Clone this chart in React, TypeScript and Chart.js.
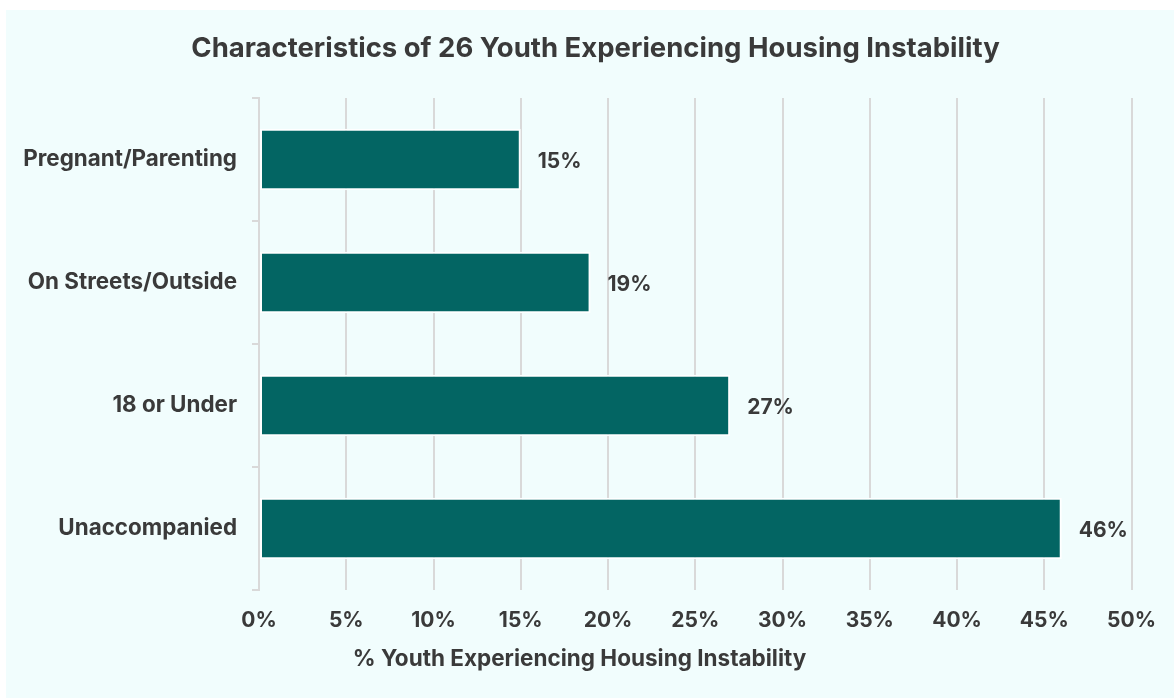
import React, { useEffect, useRef } from "react";
import { Chart, registerables } from "chart.js";

Chart.register(...registerables);

const categories = ["Pregnant/Parenting", "On Streets/Outside", "18 or Under", "Unaccompanied"];
const percentages = [15, 19, 27, 46];
const tickValues = [0, 5, 10, 15, 20, 25, 30, 35, 40, 45, 50];
const chartTitle = "Characteristics of 26 Youth Experiencing Housing Instability";
const xAxisTitle = "% Youth Experiencing Housing Instability";

const TEXT = "#3a3a3a";
const GRID = "#d9d9d9";
const BAR = "#036563";
const FONT = "Inter, 'Open Sans', sans-serif";

// Percent labels at the end of each bar
const valueLabels = {
  id: "valueLabels",
  afterDatasetsDraw(chart: any) {
    const { ctx } = chart;
    const meta = chart.getDatasetMeta(0);
    ctx.save();
    ctx.font = `700 21px ${FONT}`;
    ctx.fillStyle = TEXT;
    ctx.textAlign = "left";
    ctx.textBaseline = "middle";
    meta.data.forEach((bar: any, i: number) => {
      ctx.fillText(`${percentages[i]}%`, bar.x + 17, bar.y + 2);
    });
    ctx.restore();
  },
};

// Chart title and x-axis title, centred on the whole panel
const panelTitles = {
  id: "panelTitles",
  afterDraw(chart: any) {
    const { ctx, width } = chart;
    ctx.save();
    ctx.fillStyle = TEXT;
    ctx.textAlign = "center";
    ctx.textBaseline = "middle";
    ctx.font = `700 27.5px ${FONT}`;
    ctx.fillText(chartTitle, width / 2 + 5.5, 39);
    ctx.font = `700 22.5px ${FONT}`;
    ctx.fillText(xAxisTitle, width / 2 - 10.5, 649);
    ctx.restore();
  },
};

export default function App() {
  const canvasRef = useRef<HTMLCanvasElement>(null);

  useEffect(() => {
    if (!canvasRef.current) return;
    const chart = new Chart(canvasRef.current, {
      type: "bar",
      data: {
        labels: categories,
        datasets: [
          {
            data: percentages,
            backgroundColor: BAR,
            borderColor: "#ffffff",
            borderWidth: 2,
            borderSkipped: false,
            barPercentage: 0.5,
            categoryPercentage: 1,
          },
        ],
      },
      options: {
        indexAxis: "y",
        animation: false,
        responsive: false,
        layout: { padding: { top: 88, right: 41, bottom: 0, left: 0 } },
        plugins: {
          legend: { display: false },
          tooltip: { enabled: false },
          title: { display: false },
        },
        scales: {
          x: {
            type: "linear",
            min: 0,
            max: 50,
            afterBuildTicks(scale: any) {
              scale.ticks = tickValues.map((v) => ({ value: v }));
            },
            afterFit(scale: any) {
              scale.height = 108;
            },
            grid: { color: GRID, lineWidth: 2, drawTicks: false },
            border: { display: false },
            ticks: {
              color: TEXT,
              font: { family: FONT, size: 21, weight: "bold" },
              padding: 18,
              callback: (v: any) => `${v}%`,
            },
          },
          y: {
            afterFit(scale: any) {
              scale.width = 253;
            },
            grid: {
              offset: true,
              drawOnChartArea: false,
              drawTicks: true,
              tickLength: 7,
              color: GRID,
              lineWidth: 2,
            },
            border: { display: true, color: GRID, width: 2 },
            ticks: {
              color: TEXT,
              font: { family: FONT, size: 22.4, weight: "bold" },
              padding: 15,
            },
          },
        },
      },
      plugins: [valueLabels, panelTitles],
    });
    return () => chart.destroy();
  }, []);

  return (
    <div
      style={{
        position: "fixed",
        left: 0,
        top: 0,
        width: 1174,
        height: 698,
        background: "#ffffff",
      }}
    >
      <div
        style={{
          position: "absolute",
          left: 6,
          top: 10,
          width: 1168,
          height: 688,
          background: "#f1fdfd",
        }}
      >
        <canvas ref={canvasRef} width={1168} height={688} style={{ display: "block" }} />
      </div>
    </div>
  );
}
